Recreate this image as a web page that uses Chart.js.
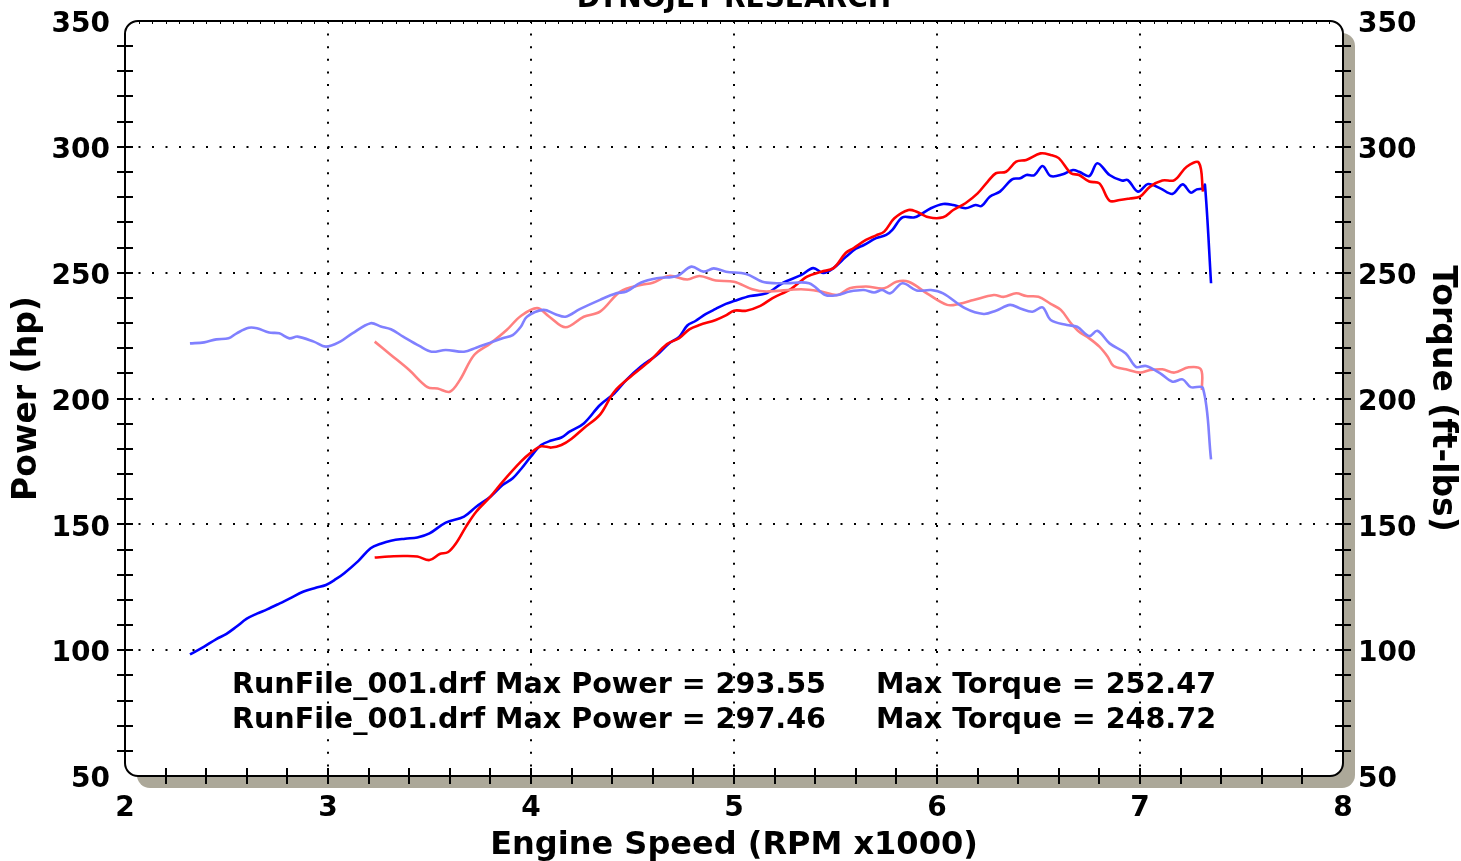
<!DOCTYPE html>
<html>
<head>
<meta charset="utf-8">
<script src="https://cdn.jsdelivr.net/npm/chart.js@4/dist/chart.umd.min.js"></script>
<style>
  html, body { margin: 0; padding: 0; background: #fff; }
  canvas { display: block; }
</style>
</head>
<body>
<canvas id="dynoChart" width="1461" height="861"></canvas>
<script>
// Run A (blue) - power curve
const powerA_rpm = [2.32, 2.39, 2.45, 2.50, 2.55, 2.60, 2.65, 2.70, 2.76, 2.81, 2.88, 2.94, 2.99, 3.04, 3.08, 3.15, 3.21, 3.26, 3.31, 3.38,
  3.44, 3.50, 3.58, 3.67, 3.73, 3.80, 3.86, 3.91, 3.95, 4.00, 4.05, 4.10, 4.15, 4.19, 4.26, 4.34, 4.41, 4.47, 4.54, 4.62,
  4.68, 4.73, 4.77, 4.81, 4.86, 4.91, 4.96, 5.00, 5.08, 5.16, 5.24, 5.33, 5.39, 5.44, 5.49, 5.55, 5.60, 5.64, 5.70, 5.75,
  5.78, 5.83, 5.89, 5.97, 6.03, 6.08, 6.14, 6.19, 6.22, 6.26, 6.31, 6.37, 6.41, 6.44, 6.48, 6.52, 6.56, 6.62, 6.67, 6.70,
  6.75, 6.79, 6.85, 6.91, 6.94, 6.99, 7.04, 7.10, 7.16, 7.21, 7.25, 7.28, 7.31, 7.32, 7.35];
const powerA_hp = [98.3, 101.4, 104.4, 106.5, 109.4, 112.5, 114.5, 116.2, 118.5, 120.5, 123.3, 124.8, 125.9, 128.3, 130.6, 135.5, 140.5, 142.3, 143.5, 144.3,
  144.8, 146.4, 150.7, 153.1, 157.0, 161.0, 165.6, 168.3, 171.9, 177.0, 181.5, 183.3, 184.5, 186.8, 190.1, 197.4, 202.0, 207.4, 212.6, 217.3,
  221.9, 224.5, 229.0, 230.8, 233.5, 235.6, 237.6, 238.7, 240.7, 241.8, 245.9, 249.0, 251.8, 249.9, 251.8, 256.2, 259.5, 261.0, 263.7, 265.0,
  267.0, 272.0, 272.0, 275.6, 277.3, 276.9, 275.6, 276.9, 276.5, 280.2, 282.2, 287.1, 287.5, 288.8, 288.8, 292.4, 288.4, 289.1, 290.8, 290.1,
  288.4, 293.5, 288.8, 286.6, 286.8, 282.2, 285.2, 283.5, 281.3, 285.1, 281.8, 283.1, 283.5, 284.9, 245.8];

// Run A (light blue) - torque curve
const torqueA_rpm = [2.32, 2.39, 2.45, 2.51, 2.55, 2.61, 2.65, 2.71, 2.76, 2.81, 2.85, 2.93, 2.99, 3.06, 3.12, 3.21, 3.26, 3.31, 3.37, 3.45,
  3.51, 3.58, 3.67, 3.73, 3.80, 3.86, 3.91, 3.95, 3.98, 4.06, 4.12, 4.17, 4.24, 4.34, 4.42, 4.47, 4.54, 4.62, 4.72, 4.79,
  4.85, 4.90, 4.96, 5.06, 5.14, 5.21, 5.26, 5.37, 5.45, 5.51, 5.57, 5.64, 5.69, 5.73, 5.77, 5.83, 5.90, 5.97, 6.03, 6.14,
  6.23, 6.29, 6.36, 6.41, 6.47, 6.52, 6.56, 6.64, 6.69, 6.75, 6.79, 6.85, 6.93, 6.98, 7.03, 7.10, 7.16, 7.21, 7.25, 7.31, 7.35];
const torqueA_ftlb = [221.9, 222.3, 223.5, 223.9, 225.9, 228.1, 227.9, 226.2, 225.9, 223.9, 224.6, 222.6, 220.6, 222.6, 225.9, 229.9, 228.6, 227.5, 224.6, 220.9,
  218.6, 219.3, 218.6, 220.2, 222.2, 223.9, 225.2, 228.5, 232.5, 235.2, 233.5, 232.5, 235.5, 239.2, 241.8, 242.5, 246.0, 247.8, 248.7, 252.4,
  250.4, 251.7, 250.4, 249.5, 246.4, 245.8, 245.8, 245.8, 241.1, 241.1, 242.5, 243.1, 242.1, 243.1, 241.8, 245.8, 242.9, 243.1, 241.8, 235.8,
  233.6, 234.9, 237.2, 235.8, 234.5, 236.2, 231.2, 229.2, 228.5, 224.8, 226.9, 221.9, 217.9, 212.6, 212.9, 210.0, 206.7, 207.6, 204.5, 204.1, 175.8];

// Run B (red) - power curve
const powerB_rpm = [3.23, 3.30, 3.37, 3.44, 3.50, 3.55, 3.59, 3.63, 3.68, 3.73, 3.80, 3.86, 3.95, 4.00, 4.05, 4.10, 4.15, 4.20, 4.26, 4.34,
  4.41, 4.50, 4.59, 4.67, 4.73, 4.78, 4.83, 4.91, 4.96, 5.00, 5.06, 5.13, 5.19, 5.28, 5.36, 5.43, 5.49, 5.55, 5.59, 5.65,
  5.70, 5.74, 5.79, 5.86, 5.90, 5.96, 6.03, 6.08, 6.14, 6.20, 6.25, 6.29, 6.34, 6.39, 6.44, 6.51, 6.56, 6.60, 6.66, 6.70,
  6.75, 6.80, 6.85, 6.90, 6.95, 7.00, 7.05, 7.11, 7.17, 7.23, 7.29, 7.31];
const powerB_hp = [136.8, 137.2, 137.4, 137.2, 135.8, 138.2, 138.9, 142.4, 149.1, 155.0, 161.0, 166.9, 174.9, 178.5, 181.0, 180.5, 181.5, 184.0, 188.2, 193.6,
  202.7, 209.3, 215.3, 221.6, 224.0, 227.5, 229.2, 231.2, 233.0, 234.9, 234.9, 236.8, 239.9, 243.5, 248.4, 250.4, 251.8, 257.8, 259.8, 263.0,
  264.8, 266.3, 271.6, 274.9, 274.2, 272.0, 272.0, 274.9, 277.6, 281.5, 286.2, 289.5, 290.1, 294.1, 294.8, 297.4, 296.8, 295.5, 289.5, 288.8,
  286.2, 285.5, 278.6, 278.9, 279.5, 280.2, 284.2, 286.6, 286.8, 292.1, 293.7, 282.2];

// Run B (light red) - torque curve
const torqueB_rpm = [3.23, 3.31, 3.40, 3.49, 3.54, 3.60, 3.65, 3.72, 3.80, 3.88, 3.95, 4.03, 4.09, 4.17, 4.26, 4.34, 4.44, 4.54, 4.60, 4.68,
  4.77, 4.83, 4.91, 5.00, 5.09, 5.16, 5.33, 5.43, 5.51, 5.57, 5.65, 5.74, 5.80, 5.86, 5.95, 6.05, 6.11, 6.18, 6.28, 6.33,
  6.39, 6.44, 6.50, 6.56, 6.61, 6.66, 6.70, 6.75, 6.80, 6.84, 6.87, 6.93, 7.00, 7.05, 7.11, 7.17, 7.24, 7.30, 7.305];
const torqueB_ftlb = [222.6, 217.3, 211.3, 204.5, 204.0, 202.7, 207.4, 217.3, 221.9, 227.2, 232.8, 235.9, 232.5, 228.3, 232.5, 234.5, 242.5, 245.1, 246.0, 248.7,
  247.3, 248.7, 246.9, 246.4, 243.4, 242.5, 243.4, 242.5, 241.1, 243.8, 244.5, 243.8, 246.4, 246.4, 241.8, 237.2, 237.6, 239.1, 241.1, 240.4,
  241.8, 240.7, 240.4, 237.6, 235.2, 229.9, 226.5, 223.9, 220.6, 216.7, 212.9, 211.6, 210.3, 211.3, 211.6, 210.3, 212.4, 211.6, 203.4];

// axis ranges and text
const rpmTicks = [2, 3, 4, 5, 6, 7, 8];
const yMin = 50, yMax = 350;
const chartTitle = 'DYNOJET RESEARCH';
const summaryLeft = ['RunFile_001.drf Max Power = 293.55', 'RunFile_001.drf Max Power = 297.46'];
const summaryRight = ['Max Torque = 252.47', 'Max Torque = 248.72'];

const FONT = '"DejaVu Sans", Verdana, sans-serif';
const toPoints = (xs, ys) => xs.map((x, i) => ({ x: x, y: ys[i] }));

function roundRect(ctx, x, y, w, h, r) {
  ctx.beginPath();
  ctx.moveTo(x + r, y);
  ctx.lineTo(x + w - r, y);
  ctx.arcTo(x + w, y, x + w, y + r, r);
  ctx.lineTo(x + w, y + h - r);
  ctx.arcTo(x + w, y + h, x + w - r, y + h, r);
  ctx.lineTo(x + r, y + h);
  ctx.arcTo(x, y + h, x, y + h - r, r);
  ctx.lineTo(x, y + r);
  ctx.arcTo(x, y, x + r, y, r);
  ctx.closePath();
}

// frame, shadow, crossing tick marks and the text blocks
const dynoFrame = {
  id: 'dynoFrame',
  beforeDraw(chart) {
    const { ctx, chartArea: a } = chart;
    ctx.save();
    roundRect(ctx, a.left + 12, a.top + 12, a.right - a.left, a.bottom - a.top, 13);
    ctx.fillStyle = '#aca899';
    ctx.fill();
    roundRect(ctx, a.left, a.top, a.right - a.left, a.bottom - a.top, 13);
    ctx.fillStyle = '#ffffff';
    ctx.fill();
    ctx.restore();
  },
  afterDraw(chart) {
    const { ctx, chartArea: a, scales } = chart;
    const xs = scales.x, ys = scales.y;
    ctx.save();
    ctx.strokeStyle = '#000';
    ctx.lineWidth = 2;
    roundRect(ctx, a.left, a.top, a.right - a.left, a.bottom - a.top, 13);
    ctx.stroke();

    ctx.beginPath();
    for (let v = yMin + 10; v < yMax; v += 10) {
      const py = Math.round(ys.getPixelForValue(v));
      ctx.moveTo(a.left - 8, py); ctx.lineTo(a.left + 8, py);
      ctx.moveTo(a.right - 8, py); ctx.lineTo(a.right + 8, py);
    }
    for (let k = 11; k < 40; k++) {
      const px = Math.round(xs.getPixelForValue(k / 5));
      ctx.moveTo(px, a.bottom - 8); ctx.lineTo(px, a.bottom + 8);
    }
    ctx.stroke();

    ctx.lineWidth = 1;
    ctx.beginPath();
    for (let k = 31; k < 120; k++) {
      const px = Math.round(xs.getPixelForValue(k / 15)) + 0.5;
      ctx.moveTo(px, a.top); ctx.lineTo(px, a.top + 3);
    }
    ctx.stroke();

    ctx.fillStyle = '#000';
    ctx.font = 'bold 28px ' + FONT;
    ctx.textBaseline = 'alphabetic';
    ctx.textAlign = 'center';
    ctx.fillText(chartTitle, (a.left + a.right) / 2, 7);
    ctx.textAlign = 'left';
    ctx.font = 'bold 28.6px ' + FONT;
    summaryLeft.forEach((t, i) => ctx.fillText(t, a.left + 107, a.bottom - 83 + i * 35));
    summaryRight.forEach((t, i) => ctx.fillText(t, a.left + 751, a.bottom - 83 + i * 35));
    ctx.restore();
  }
};

const gridColor = (ctx) => {
  const v = ctx.tick.value;
  return (v === 2 || v === 8 || v === yMin || v === yMax) ? 'rgba(0,0,0,0)' : '#000';
};

// fixed axis boxes so the plot area lands where the reference has it
const fixWidth = (w) => (s) => { s.width = w; s.paddingTop = 0; s.paddingBottom = 0; };
const fixHeight = (h) => (s) => { s.height = h; s.paddingLeft = 0; s.paddingRight = 0; };

const ctx = document.getElementById('dynoChart').getContext('2d');
new Chart(ctx, {
  type: 'line',
  data: {
    datasets: [
      { label: 'Torque A', data: toPoints(torqueA_rpm, torqueA_ftlb), borderColor: '#8080ff', yAxisID: 'y2' },
      { label: 'Torque B', data: toPoints(torqueB_rpm, torqueB_ftlb), borderColor: '#ff8080', yAxisID: 'y2' },
      { label: 'Power B', data: toPoints(powerB_rpm, powerB_hp), borderColor: '#ff0000', yAxisID: 'y' },
      { label: 'Power A', data: toPoints(powerA_rpm, powerA_hp), borderColor: '#0000ff', yAxisID: 'y' }
    ]
  },
  options: {
    responsive: false,
    animation: false,
    devicePixelRatio: 1,
    layout: { padding: { top: 21, left: 0, right: 0, bottom: 0 } },
    elements: {
      point: { radius: 0 },
      line: { borderWidth: 2.6, tension: 0.35, fill: false }
    },
    plugins: {
      legend: { display: false },
      tooltip: { enabled: false }
    },
    scales: {
      x: {
        type: 'linear',
        position: 'bottom',
        min: 2, max: 8,
        afterBuildTicks: (s) => { s.ticks = rpmTicks.map(v => ({ value: v })); },
        afterFit: fixHeight(85),
        grid: { color: gridColor, lineWidth: 2, drawTicks: false },
        border: { display: false, dash: [2, 10.6] },
        ticks: { color: '#000', font: { family: FONT, size: 28, weight: 'bold' }, padding: 16, maxRotation: 0 },
        title: { display: true, text: 'Engine Speed (RPM x1000)', color: '#000', font: { family: FONT, size: 32, weight: 'bold' }, padding: { top: 0, bottom: -4 } }
      },
      y: {
        position: 'left',
        min: yMin, max: yMax,
        ticks: { stepSize: 50, color: '#000', font: { family: FONT, size: 28, weight: 'bold' }, padding: 15, labelOffset: 4 },
        afterFit: fixWidth(125),
        grid: { color: gridColor, lineWidth: 2, drawTicks: false },
        border: { display: false, dash: [2, 11.5] },
        title: { display: true, text: 'Power (hp)', color: '#000', font: { family: FONT, size: 33, weight: 'bold' }, padding: { top: 8, bottom: 0 } }
      },
      y2: {
        position: 'right',
        min: yMin, max: yMax,
        ticks: { stepSize: 50, color: '#000', font: { family: FONT, size: 28, weight: 'bold' }, padding: 15, labelOffset: 4 },
        afterFit: fixWidth(118),
        grid: { drawOnChartArea: false, drawTicks: false },
        border: { display: false },
        title: { display: true, text: 'Torque (ft-lbs)', color: '#000', font: { family: FONT, size: 33, weight: 'bold' }, padding: { top: 0, bottom: 0 } }
      }
    }
  },
  plugins: [dynoFrame]
});
</script>
</body>
</html>
